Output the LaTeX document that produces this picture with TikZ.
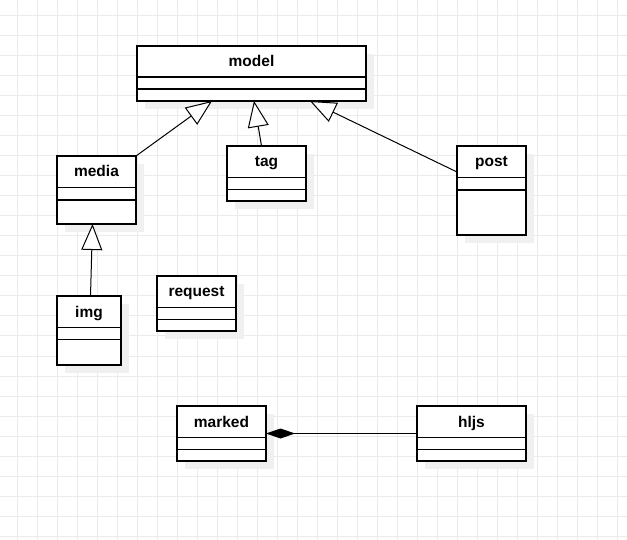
\documentclass[tikz,border=0pt]{standalone}
\usepackage{fontspec}
\setmainfont{Liberation Sans}
\usetikzlibrary{arrows.meta,calc}
\definecolor{gridc}{HTML}{EBEBEB}
\definecolor{shadowc}{HTML}{F0F0F0}
\tikzset{
  clsbox/.style={draw=black, line width=1.2pt, fill=white, inner sep=0pt, outer sep=0pt},
  clsline/.style={draw=black, line width=1.2pt},
  clstitle/.style={font=\fontsize{15.5}{18}\selectfont\bfseries, inner sep=0pt, anchor=base},
  inh/.style={draw=black, line width=1pt, -{Triangle[open, length=26pt, width=21pt, fill=white]}},
  comp/.style={draw=black, line width=1pt, {Diamond[length=29pt, width=10pt, fill=black]}-},
}
\newcommand\umlclass[8]{%
  \fill[shadowc] (#2+8,#3+8) rectangle ++(#4,#5);
  \node[clsbox, minimum width=#4pt, minimum height=#5pt, anchor=north west] (#1) at (#2,#3) {};
  \draw[clsline] (#2,#6) -- ++(#4,0);
  \draw[clsline] (#2,#7) -- ++(#4,0);
  \node[clstitle] (#1-t) at (#2+#4/2,#3+21) {#8};
}
\begin{document}
\begin{tikzpicture}[x=1pt,y=-1pt]
\useasboundingbox (0,0) rectangle (627,540);
\fill[white] (0,0) rectangle (627,540);
\foreach \x in {17,37,...,617} \draw[gridc, line width=1pt] (\x,0) -- (\x,540);
\foreach \y in {16,36,...,536} \draw[gridc, line width=1pt] (0,\y) -- (627,\y);
\umlclass{model}{137}{46}{229}{55}{77}{89}{model}
\umlclass{media}{57}{156}{79}{68}{187.5}{200}{media}
\umlclass{tag}{227}{146}{79}{55}{177.5}{189.5}{tag}
\umlclass{post}{457}{146}{69}{89}{177.5}{190}{post}
\umlclass{img}{57}{296}{64}{69}{327.5}{339.5}{img}
\umlclass{request}{157}{276}{79}{55}{307.5}{319.5}{request}
\umlclass{marked}{177}{406}{89}{55}{437.5}{449.5}{marked}
\umlclass{hljs}{417}{406}{109}{55}{437.5}{449.5}{hljs}
\draw[inh] (media.north east) -- ($(model.south west)+(75,0)$);
\draw[inh] ($(tag.north)+(-5,0)$) -- ($(model.south west)+(117,0)$);
\draw[inh] ($(post.north west)+(0,26)$) -- ($(model.south west)+(173,0)$);
\draw[inh] ($(img.north)+(1.5,0)$) -- ($(media.south)+(-4,0)$);
\draw[comp] (marked.east) -- (hljs.west);
\end{tikzpicture}
\end{document}
